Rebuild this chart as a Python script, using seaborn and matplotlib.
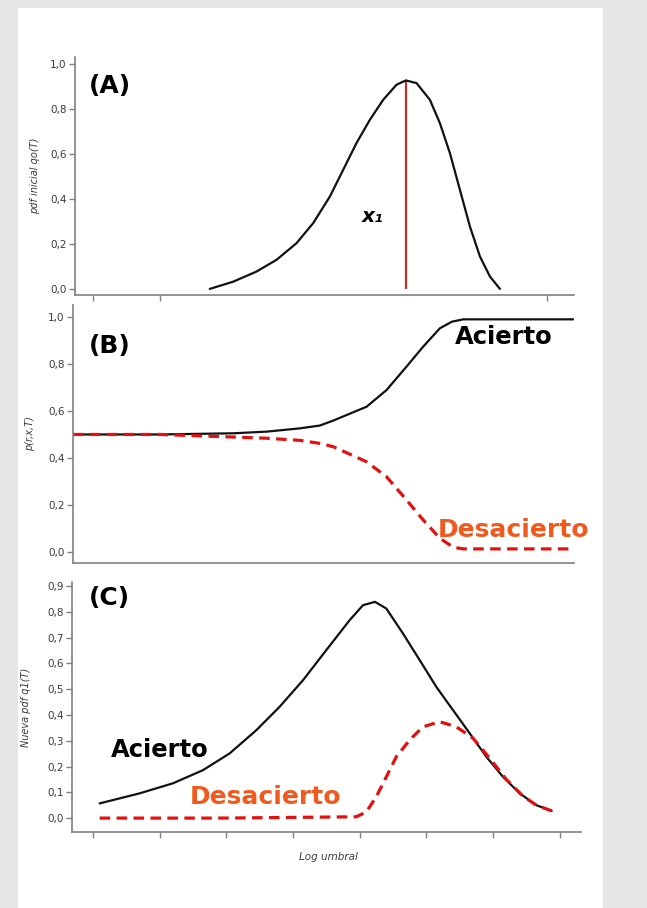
import numpy as np
import pandas as pd
import matplotlib.pyplot as plt
import seaborn as sns
from matplotlib.patches import Rectangle
from matplotlib.ticker import FuncFormatter

# ------------------ Data (x in "log umbral" units) ------------------

# (A) initial pdf q0(T)
pdf0_x = [2.75, 3.10, 3.45, 3.75, 4.05, 4.30, 4.55, 4.75, 4.95, 5.15, 5.35, 5.55,
          5.69, 5.85, 6.05, 6.20, 6.35, 6.50, 6.65, 6.80, 6.95, 7.10]
pdf0_y = [0.00, 0.032, 0.077, 0.129, 0.203, 0.292, 0.41, 0.529, 0.648, 0.751, 0.84, 0.907,
          0.926, 0.914, 0.84, 0.736, 0.603, 0.44, 0.277, 0.144, 0.055, 0.00]

# (B) p(r, x, T)
hit_b_x = [0.70, 2.00, 3.10, 3.60, 4.10, 4.40, 4.60, 5.10, 5.40, 5.70, 5.95, 6.20,
           6.38, 6.55, 8.20]
hit_b_y = [0.50, 0.50, 0.505, 0.512, 0.526, 0.538, 0.559, 0.618, 0.689, 0.789, 0.874,
           0.952, 0.98, 0.99, 0.99]
miss_b_x = [0.70, 2.00, 2.60, 3.60, 4.10, 4.40, 4.60, 5.10, 5.40, 5.70, 5.95, 6.20,
            6.40, 6.55, 8.15]
miss_b_y = [0.50, 0.50, 0.494, 0.484, 0.475, 0.462, 0.448, 0.384, 0.32, 0.221, 0.136,
            0.058, 0.02, 0.013, 0.013]

# (C) new pdf q1(T)
hit_c_x = [1.10, 1.70, 2.20, 2.65, 3.05, 3.45, 3.80, 4.15, 4.50, 4.85, 5.05, 5.23,
           5.40, 5.65, 5.90, 6.15, 6.40, 6.65, 6.90, 7.15, 7.40, 7.65, 7.88]
hit_c_y = [0.057, 0.096, 0.135, 0.186, 0.251, 0.341, 0.432, 0.535, 0.652, 0.768, 0.826,
           0.839, 0.813, 0.716, 0.613, 0.509, 0.419, 0.329, 0.238, 0.160, 0.096, 0.05, 0.028]
miss_c_x = [1.10, 2.95, 4.95, 5.10, 5.25, 5.40, 5.55, 5.75, 5.95, 6.20, 6.45, 6.70,
            6.95, 7.20, 7.45, 7.65, 7.88]
miss_c_y = [0.0, 0.0, 0.005, 0.024, 0.083, 0.16, 0.238, 0.303, 0.354, 0.374, 0.354,
            0.31, 0.232, 0.15, 0.085, 0.05, 0.028]

ylabels = ["pdf inicial qo(T)", "p(r,x,T)", "Nueva pdf q1(T)"]
xlabel = "Log umbral"

# ------------------ Style ------------------

sns.set_style("white")
plt.rcParams["font.family"] = ["DejaVu Sans"]
plt.rcParams["lines.solid_joinstyle"] = "round"
plt.rcParams["lines.solid_capstyle"] = "round"

black = "#111111"
red = "#e41010"
orange = "#f05a1e"
vline_red = "#c0302a"
spine_col = "#808080"
tick_col = "#3a3a3a"
dash = (0, (3.3, 2.0))

fig = plt.figure(figsize=(6.47, 9.08), dpi=100)
fig.patch.set_facecolor("#e6e6e6")
fig.add_artist(Rectangle((18 / 647, 0), (603 - 18) / 647, 1 - 8 / 908,
                         transform=fig.transFigure, facecolor="white",
                         edgecolor="none", zorder=-10))

axA = fig.add_axes([75 / 647, 1 - 295 / 908, 499 / 647, 238 / 908])
axB = fig.add_axes([73 / 647, 1 - 563 / 908, 501 / 647, 258 / 908])
axC = fig.add_axes([72 / 647, 1 - 832 / 908, 509 / 647, 250 / 908])

comma = FuncFormatter(lambda v, p: f"{v:.1f}".replace(".", ","))

for ax, ylab in zip([axA, axB, axC], ylabels):
    ax.set_facecolor("none")
    sns.despine(ax=ax)
    for s in ["left", "bottom"]:
        ax.spines[s].set_color(spine_col)
        ax.spines[s].set_linewidth(1.2)
    ax.yaxis.set_major_formatter(comma)
    ax.tick_params(axis="y", length=4, width=1, color=spine_col, labelsize=7.5,
                   labelcolor=tick_col, pad=2, left=True)
    ax.tick_params(axis="x", length=4, width=1, color=spine_col, labelbottom=False,
                   bottom=True)
    ax.set_ylabel(ylab, fontsize=7, style="italic", color=tick_col)
    ax.set_xlabel("")

# ------------------ Panel A ------------------
sns.lineplot(x=pdf0_x, y=pdf0_y, ax=axA, color=black, lw=1.6, sort=False, estimator=None)
ipk = int(np.argmax(pdf0_y))
axA.vlines(pdf0_x[ipk], 0, pdf0_y[ipk], color=vline_red, lw=1.6, zorder=1)
axA.set_xlim(0.73, 8.21)
axA.set_ylim(-0.027, 1.03)
axA.set_yticks(np.arange(0, 1.01, 0.2))
axA.set_xticks([1, 2, 7.8])
axA.text(1.25, 0.90, "(A)", fontsize=18, fontweight="bold", color="black",
         ha="center", va="center")
axA.text(5.20, 0.32, "x₁", fontsize=14.5, fontweight="bold", style="italic",
         color="black", ha="center", va="center")
axA.yaxis.set_label_coords(-0.07, 0.5)

# ------------------ Panel B ------------------
sns.lineplot(x=hit_b_x, y=hit_b_y, ax=axB, color=black, lw=1.6, sort=False, estimator=None)
sns.lineplot(x=miss_b_x, y=miss_b_y, ax=axB, color=red, lw=2.3, linestyle=dash,
             sort=False, estimator=None)
axB.set_xlim(0.70, 8.21)
axB.set_ylim(-0.047, 1.051)
axB.set_yticks(np.arange(0, 1.01, 0.2))
axB.set_xticks([])
axB.text(1.25, 0.877, "(B)", fontsize=18, fontweight="bold", color="black",
         ha="center", va="center")
axB.text(7.16, 0.915, "Acierto", fontsize=17.5, fontweight="bold", color="black",
         ha="center", va="center")
axB.text(7.30, 0.094, "Desacierto", fontsize=18, fontweight="bold", color=orange,
         ha="center", va="center")
axB.yaxis.set_label_coords(-0.075, 0.5)

# ------------------ Panel C ------------------
sns.lineplot(x=hit_c_x, y=hit_c_y, ax=axC, color=black, lw=1.6, sort=False, estimator=None)
sns.lineplot(x=miss_c_x, y=miss_c_y, ax=axC, color=red, lw=2.3, linestyle=dash,
             sort=False, estimator=None)
axC.set_xlim(0.685, 8.32)
axC.set_ylim(-0.054, 0.916)
axC.set_yticks(np.arange(0, 0.91, 0.1))
axC.set_xticks(np.arange(1, 9))
axC.text(1.25, 0.853, "(C)", fontsize=18, fontweight="bold", color="black",
         ha="center", va="center")
axC.text(2.0, 0.264, "Acierto", fontsize=17.5, fontweight="bold", color="black",
         ha="center", va="center")
axC.text(3.58, 0.081, "Desacierto", fontsize=18, fontweight="bold", color=orange,
         ha="center", va="center")
axC.yaxis.set_label_coords(-0.08, 0.5)
fig.text(328 / 647, 1 - 857 / 908, xlabel, fontsize=7.5, style="italic",
         color=tick_col, ha="center", va="center")

plt.savefig("out.png", dpi=100, facecolor=fig.get_facecolor())
